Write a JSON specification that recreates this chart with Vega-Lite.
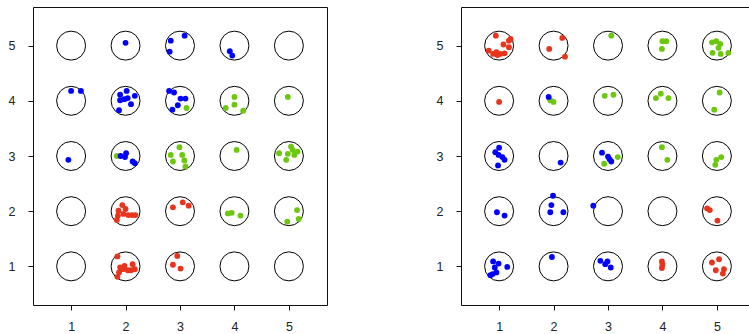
{
  "$schema": "https://vega.github.io/schema/vega-lite/v6.json",
  "padding": {"left": 7, "top": 6, "right": 0, "bottom": 0},
  "background": "white",
  "datasets": {
    "grid": [
      {"x":1,"y":1},{"x":2,"y":1},{"x":3,"y":1},{"x":4,"y":1},{"x":5,"y":1},
      {"x":1,"y":2},{"x":2,"y":2},{"x":3,"y":2},{"x":4,"y":2},{"x":5,"y":2},
      {"x":1,"y":3},{"x":2,"y":3},{"x":3,"y":3},{"x":4,"y":3},{"x":5,"y":3},
      {"x":1,"y":4},{"x":2,"y":4},{"x":3,"y":4},{"x":4,"y":4},{"x":5,"y":4},
      {"x":1,"y":5},{"x":2,"y":5},{"x":3,"y":5},{"x":4,"y":5},{"x":5,"y":5}
    ],
    "dots": [
      {"panel":"A","group":"red","x":1.94,"y":2.11},{"panel":"A","group":"red","x":1.87,"y":2.01},{"panel":"A","group":"red","x":1.86,"y":1.92},{"panel":"A","group":"red","x":1.84,"y":1.84},{"panel":"A","group":"red","x":2.0,"y":2.04},{"panel":"A","group":"red","x":2.05,"y":1.93},{"panel":"A","group":"red","x":2.12,"y":1.93},{"panel":"A","group":"red","x":2.18,"y":1.93},{"panel":"A","group":"red","x":1.96,"y":1.95},
      {"panel":"A","group":"red","x":2.87,"y":2.07},{"panel":"A","group":"red","x":3.05,"y":2.16},{"panel":"A","group":"red","x":3.16,"y":2.10},
      {"panel":"A","group":"red","x":1.85,"y":1.18},{"panel":"A","group":"red","x":1.90,"y":0.98},{"panel":"A","group":"red","x":1.98,"y":1.01},{"panel":"A","group":"red","x":1.88,"y":0.89},{"panel":"A","group":"red","x":1.85,"y":0.81},{"panel":"A","group":"red","x":2.04,"y":0.93},{"panel":"A","group":"red","x":2.13,"y":1.04},{"panel":"A","group":"red","x":2.17,"y":0.95},{"panel":"A","group":"red","x":2.10,"y":0.93},{"panel":"A","group":"red","x":1.95,"y":0.95},
      {"panel":"A","group":"red","x":2.95,"y":1.19},{"panel":"A","group":"red","x":2.87,"y":1.03},{"panel":"A","group":"red","x":3.01,"y":0.96},
      {"panel":"A","group":"green","x":1.84,"y":3.0},
      {"panel":"A","group":"blue","x":2.0,"y":5.05},
      {"panel":"A","group":"blue","x":2.83,"y":5.09},{"panel":"A","group":"blue","x":2.81,"y":4.89},{"panel":"A","group":"blue","x":3.085,"y":5.18},
      {"panel":"A","group":"blue","x":3.915,"y":4.90},{"panel":"A","group":"blue","x":3.96,"y":4.82},
      {"panel":"A","group":"blue","x":1.0,"y":4.18},{"panel":"A","group":"blue","x":1.18,"y":4.18},
      {"panel":"A","group":"blue","x":2.02,"y":4.18},{"panel":"A","group":"blue","x":1.90,"y":4.11},{"panel":"A","group":"blue","x":1.90,"y":4.01},{"panel":"A","group":"blue","x":2.04,"y":4.05},{"panel":"A","group":"blue","x":2.10,"y":3.94},{"panel":"A","group":"blue","x":2.17,"y":4.09},{"panel":"A","group":"blue","x":1.88,"y":3.83},{"panel":"A","group":"blue","x":1.98,"y":4.03},
      {"panel":"A","group":"blue","x":2.80,"y":4.18},{"panel":"A","group":"blue","x":2.89,"y":4.15},{"panel":"A","group":"blue","x":3.01,"y":4.04},{"panel":"A","group":"blue","x":3.10,"y":4.04},{"panel":"A","group":"blue","x":2.96,"y":3.92},{"panel":"A","group":"blue","x":2.86,"y":3.84},
      {"panel":"A","group":"blue","x":0.95,"y":2.93},
      {"panel":"A","group":"blue","x":1.91,"y":3.0},{"panel":"A","group":"blue","x":1.99,"y":2.98},{"panel":"A","group":"blue","x":2.01,"y":3.05},{"panel":"A","group":"blue","x":2.13,"y":2.90},{"panel":"A","group":"blue","x":2.17,"y":2.87},
      {"panel":"A","group":"green","x":3.12,"y":3.87},
      {"panel":"A","group":"green","x":4.0,"y":4.07},{"panel":"A","group":"green","x":3.84,"y":3.87},{"panel":"A","group":"green","x":4.0,"y":3.93},{"panel":"A","group":"green","x":4.16,"y":3.82},
      {"panel":"A","group":"green","x":4.98,"y":4.07},
      {"panel":"A","group":"green","x":2.99,"y":3.16},{"panel":"A","group":"green","x":2.83,"y":3.02},{"panel":"A","group":"green","x":2.87,"y":2.90},{"panel":"A","group":"green","x":3.04,"y":3.02},{"panel":"A","group":"green","x":3.08,"y":2.92},{"panel":"A","group":"green","x":3.10,"y":2.81},
      {"panel":"A","group":"green","x":4.04,"y":3.11},
      {"panel":"A","group":"green","x":4.82,"y":3.05},{"panel":"A","group":"green","x":4.95,"y":2.93},{"panel":"A","group":"green","x":4.98,"y":3.04},{"panel":"A","group":"green","x":5.04,"y":3.17},{"panel":"A","group":"green","x":5.07,"y":3.11},{"panel":"A","group":"green","x":5.10,"y":3.02},{"panel":"A","group":"green","x":5.16,"y":3.08},
      {"panel":"A","group":"green","x":3.88,"y":1.96},{"panel":"A","group":"green","x":3.95,"y":1.97},{"panel":"A","group":"green","x":4.11,"y":1.92},
      {"panel":"A","group":"green","x":5.15,"y":2.02},{"panel":"A","group":"green","x":5.18,"y":1.86},{"panel":"A","group":"green","x":4.97,"y":1.81},

      {"panel":"B","group":"red","x":0.94,"y":5.18},{"panel":"B","group":"red","x":0.81,"y":4.91},{"panel":"B","group":"red","x":0.89,"y":4.85},{"panel":"B","group":"red","x":0.95,"y":4.88},{"panel":"B","group":"red","x":1.02,"y":4.85},{"panel":"B","group":"red","x":1.10,"y":4.86},{"panel":"B","group":"red","x":1.08,"y":5.02},{"panel":"B","group":"red","x":1.18,"y":5.09},{"panel":"B","group":"red","x":1.21,"y":5.12},{"panel":"B","group":"red","x":1.18,"y":4.97},{"panel":"B","group":"red","x":0.97,"y":4.83},
      {"panel":"B","group":"red","x":1.92,"y":4.94},{"panel":"B","group":"red","x":2.16,"y":5.14},{"panel":"B","group":"red","x":2.21,"y":4.80},
      {"panel":"B","group":"red","x":1.0,"y":3.98},
      {"panel":"B","group":"red","x":4.82,"y":2.05},{"panel":"B","group":"red","x":4.87,"y":2.02},{"panel":"B","group":"red","x":5.01,"y":1.83},
      {"panel":"B","group":"red","x":3.99,"y":1.09},{"panel":"B","group":"red","x":4.0,"y":1.03},{"panel":"B","group":"red","x":3.99,"y":0.97},
      {"panel":"B","group":"red","x":4.91,"y":1.07},{"panel":"B","group":"red","x":5.04,"y":1.13},{"panel":"B","group":"red","x":4.98,"y":0.93},{"panel":"B","group":"red","x":5.13,"y":0.95},{"panel":"B","group":"red","x":5.11,"y":0.87},
      {"panel":"B","group":"green","x":1.94,"y":4.01},{"panel":"B","group":"green","x":2.0,"y":3.98},
      {"panel":"B","group":"blue","x":1.91,"y":4.07},
      {"panel":"B","group":"blue","x":1.0,"y":3.15},{"panel":"B","group":"blue","x":0.93,"y":3.07},{"panel":"B","group":"blue","x":0.99,"y":3.02},{"panel":"B","group":"blue","x":1.06,"y":2.98},{"panel":"B","group":"blue","x":1.10,"y":2.93},{"panel":"B","group":"blue","x":0.98,"y":2.83},
      {"panel":"B","group":"blue","x":2.13,"y":2.88},
      {"panel":"B","group":"blue","x":2.89,"y":3.06},{"panel":"B","group":"blue","x":3.0,"y":2.99},{"panel":"B","group":"blue","x":3.06,"y":2.90},{"panel":"B","group":"blue","x":3.03,"y":2.94},
      {"panel":"B","group":"blue","x":0.96,"y":1.98},{"panel":"B","group":"blue","x":1.10,"y":1.92},
      {"panel":"B","group":"blue","x":1.99,"y":2.28},{"panel":"B","group":"blue","x":1.96,"y":2.11},{"panel":"B","group":"blue","x":1.94,"y":1.98},{"panel":"B","group":"blue","x":2.18,"y":1.98},
      {"panel":"B","group":"blue","x":2.73,"y":2.10},
      {"panel":"B","group":"blue","x":0.89,"y":1.09},{"panel":"B","group":"blue","x":0.99,"y":1.05},{"panel":"B","group":"blue","x":0.92,"y":0.98},{"panel":"B","group":"blue","x":0.95,"y":0.89},{"panel":"B","group":"blue","x":0.84,"y":0.84},{"panel":"B","group":"blue","x":0.88,"y":0.86},{"panel":"B","group":"blue","x":1.15,"y":0.99},
      {"panel":"B","group":"blue","x":1.97,"y":1.17},
      {"panel":"B","group":"blue","x":2.86,"y":1.10},{"panel":"B","group":"blue","x":2.99,"y":1.09},{"panel":"B","group":"blue","x":2.95,"y":1.04},{"panel":"B","group":"blue","x":3.05,"y":0.98},
      {"panel":"B","group":"green","x":3.06,"y":5.18},
      {"panel":"B","group":"green","x":4.0,"y":5.08},{"panel":"B","group":"green","x":4.07,"y":5.08},{"panel":"B","group":"green","x":3.99,"y":4.94},
      {"panel":"B","group":"green","x":4.91,"y":5.06},{"panel":"B","group":"green","x":4.99,"y":5.08},{"panel":"B","group":"green","x":5.06,"y":5.03},{"panel":"B","group":"green","x":5.03,"y":4.96},{"panel":"B","group":"green","x":4.92,"y":4.87},{"panel":"B","group":"green","x":5.07,"y":4.85},{"panel":"B","group":"green","x":5.21,"y":4.87},
      {"panel":"B","group":"green","x":2.94,"y":4.09},{"panel":"B","group":"green","x":3.10,"y":4.11},
      {"panel":"B","group":"green","x":3.88,"y":4.05},{"panel":"B","group":"green","x":3.97,"y":4.13},{"panel":"B","group":"green","x":4.11,"y":4.05},
      {"panel":"B","group":"green","x":5.05,"y":4.15},{"panel":"B","group":"green","x":4.95,"y":3.84},
      {"panel":"B","group":"green","x":3.18,"y":2.98},{"panel":"B","group":"green","x":2.93,"y":2.86},
      {"panel":"B","group":"green","x":3.99,"y":3.16},{"panel":"B","group":"green","x":4.09,"y":2.93},
      {"panel":"B","group":"green","x":5.08,"y":2.98},{"panel":"B","group":"green","x":4.99,"y":2.93},{"panel":"B","group":"green","x":4.97,"y":2.84}
    ]
  },
  "bounds": "flush",
  "spacing": 134,
  "hconcat": [
    {
      "width": 294, "height": 298,
      "layer": [
        {
          "data": {"name": "grid"},
          "mark": {"type": "point", "shape": "circle", "filled": false, "size": 840, "stroke": "#000", "strokeWidth": 1, "opacity": 1},
          "encoding": {
            "x": {"field": "x", "type": "quantitative", "scale": {"domain": [0.3, 5.7], "nice": false, "zero": false}, "axis": {"values": [1,2,3,4,5], "format": "d", "title": null}},
            "y": {"field": "y", "type": "quantitative", "scale": {"domain": [0.3, 5.7], "nice": false, "zero": false}, "axis": {"values": [1,2,3,4,5], "format": "d", "title": null}}
          }
        },
        {
          "data": {"name": "dots"},
          "transform": [{"filter": "datum.panel === 'A'"}],
          "mark": {"type": "circle", "size": 34, "opacity": 1},
          "encoding": {
            "x": {"field": "x", "type": "quantitative"},
            "y": {"field": "y", "type": "quantitative"},
            "color": {"field": "group", "type": "nominal", "scale": {"domain": ["red","green","blue"], "range": ["#E8341C","#6BC70F","#0000FF"]}, "legend": null}
          }
        }
      ]
    },
    {
      "width": 294, "height": 298,
      "layer": [
        {
          "data": {"name": "grid"},
          "mark": {"type": "point", "shape": "circle", "filled": false, "size": 840, "stroke": "#000", "strokeWidth": 1, "opacity": 1},
          "encoding": {
            "x": {"field": "x", "type": "quantitative", "scale": {"domain": [0.3, 5.7], "nice": false, "zero": false}, "axis": {"values": [1,2,3,4,5], "format": "d", "title": null}},
            "y": {"field": "y", "type": "quantitative", "scale": {"domain": [0.3, 5.7], "nice": false, "zero": false}, "axis": {"values": [1,2,3,4,5], "format": "d", "title": null}}
          }
        },
        {
          "data": {"name": "dots"},
          "transform": [{"filter": "datum.panel === 'B'"}],
          "mark": {"type": "circle", "size": 34, "opacity": 1},
          "encoding": {
            "x": {"field": "x", "type": "quantitative"},
            "y": {"field": "y", "type": "quantitative"},
            "color": {"field": "group", "type": "nominal", "scale": {"domain": ["red","green","blue"], "range": ["#E8341C","#6BC70F","#0000FF"]}, "legend": null}
          }
        }
      ]
    }
  ],
  "config": {
    "view": {"stroke": "#111", "strokeWidth": 1},
    "axis": {
      "domain": false, "grid": false,
      "ticks": true, "tickSize": 5, "tickColor": "#111", "tickWidth": 1,
      "labelFont": "Liberation Sans", "labelFontSize": 12.5, "labelColor": "#222",
      "labelPadding": 10
    },
    "axisY": {"labelPadding": 13}
  }
}
